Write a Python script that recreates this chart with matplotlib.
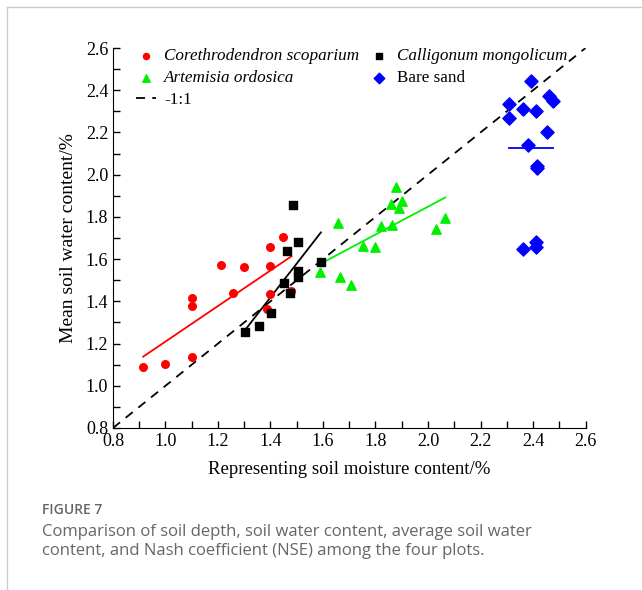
import numpy as np
import matplotlib.pyplot as plt
from matplotlib.ticker import MultipleLocator
from matplotlib.lines import Line2D

# Corethrodendron scoparium
cs_x = [0.915, 1.00, 1.10, 1.10, 1.10, 1.21, 1.258, 1.30, 1.40, 1.40, 1.40, 1.385, 1.449, 1.48]
cs_y = [1.09, 1.103, 1.135, 1.378, 1.415, 1.573, 1.438, 1.562, 1.568, 1.659, 1.435, 1.364, 1.707, 1.45]
# Calligonum mongolicum
cm_x = [1.303, 1.357, 1.403, 1.453, 1.474, 1.464, 1.503, 1.503, 1.503, 1.592, 1.485]
cm_y = [1.256, 1.285, 1.346, 1.486, 1.438, 1.639, 1.680, 1.545, 1.517, 1.585, 1.857]
# Artemisia ordosica
ao_x = [1.878, 1.656, 1.858, 1.902, 1.888, 1.821, 1.862, 2.066, 2.030, 1.752, 1.797, 1.589, 1.665, 1.705]
ao_y = [1.944, 1.773, 1.862, 1.873, 1.844, 1.757, 1.762, 1.794, 1.742, 1.663, 1.659, 1.538, 1.517, 1.478]
# Bare sand
bs_x = [2.391, 2.31, 2.31, 2.361, 2.411, 2.462, 2.477, 2.452, 2.38, 2.414, 2.414, 2.363, 2.411, 2.411]
bs_y = [2.446, 2.336, 2.268, 2.312, 2.302, 2.375, 2.35, 2.20, 2.141, 2.042, 2.031, 1.647, 1.68, 1.656]

one_to_one = [0.8, 2.6]

plt.rcParams['font.family'] = 'Liberation Serif'

fig = plt.figure(figsize=(6.42, 5.90), dpi=100)
ax = fig.add_axes([0.176, 0.2746, 0.736, 0.644])


def fit_line(x, y, color):
    x = np.array(x)
    k, b = np.polyfit(x, y, 1)
    xs = np.array([x.min(), x.max()])
    ax.plot(xs, k * xs + b, color=color, lw=1.3, zorder=2)


ax.plot(one_to_one, one_to_one, 'k--', lw=1.3, dashes=(5, 4), label='-1:1', zorder=1)

ax.scatter(cs_x, cs_y, s=30, marker='o', color='#ff0000', label='Corethrodendron scoparium', zorder=3)
ax.scatter(cm_x, cm_y, s=28, marker='s', color='black', label='Calligonum mongolicum', zorder=3)
ax.scatter(ao_x, ao_y, s=45, marker='^', color='#00f000', label='Artemisia ordosica', zorder=3)
ax.scatter(bs_x, bs_y, s=45, marker='D', color='#0000ff', label='Bare sand', zorder=3)

fit_line(cs_x, cs_y, '#ff0000')
fit_line(cm_x, cm_y, 'black')
fit_line(ao_x, ao_y, '#00f000')
# bare sand: flat line at the mean
ax.plot([min(bs_x), max(bs_x)], [np.mean(bs_y)] * 2, color='#0000ff', lw=1.3, zorder=2)

ax.set_xlim(0.8, 2.6)
ax.set_ylim(0.8, 2.6)
ax.xaxis.set_major_locator(MultipleLocator(0.2))
ax.yaxis.set_major_locator(MultipleLocator(0.2))
ax.xaxis.set_minor_locator(MultipleLocator(0.1))
ax.yaxis.set_minor_locator(MultipleLocator(0.1))
ax.tick_params(which='both', direction='in', length=5, width=1, labelsize=13)
ax.spines['top'].set_visible(False)
ax.spines['right'].set_visible(False)

ax.set_xlabel('Representing soil moisture content/%', fontsize=13.5, labelpad=8)
ax.set_ylabel('Mean soil water content/%', fontsize=14, labelpad=6)

h, l = ax.get_legend_handles_labels()
d = dict(zip(l, h))
order = ['Corethrodendron scoparium', 'Artemisia ordosica', '-1:1', 'Calligonum mongolicum', 'Bare sand']
leg = ax.legend([d[k] for k in order], order, ncol=2, frameon=False, fontsize=12.3,
                loc='upper left', bbox_to_anchor=(0.016, 1.04), handlelength=1.2,
                handletextpad=0.45, columnspacing=0.55, labelspacing=0.35, markerscale=0.8)
for t in leg.get_texts():
    if t.get_text() not in ('Bare sand', '-1:1'):
        t.set_fontstyle('italic')

# caption
fig.text(0.066, 0.129, 'FIGURE 7', fontsize=10, color='#666666', family='Open Sans', weight='semibold')
fig.text(0.066, 0.0915, 'Comparison of soil depth, soil water content, average soil water',
         fontsize=12, color='#666666', family='Open Sans')
fig.text(0.066, 0.059, 'content, and Nash coefficient (NSE) among the four plots.',
         fontsize=12, color='#666666', family='Open Sans')

# card border
fig.add_artist(Line2D([0.011, 0.011], [0.0, 0.988], transform=fig.transFigure, color='#cccccc', lw=1))
fig.add_artist(Line2D([0.011, 1.0], [0.988, 0.988], transform=fig.transFigure, color='#cccccc', lw=1))

fig.savefig('out.png', dpi=100)
